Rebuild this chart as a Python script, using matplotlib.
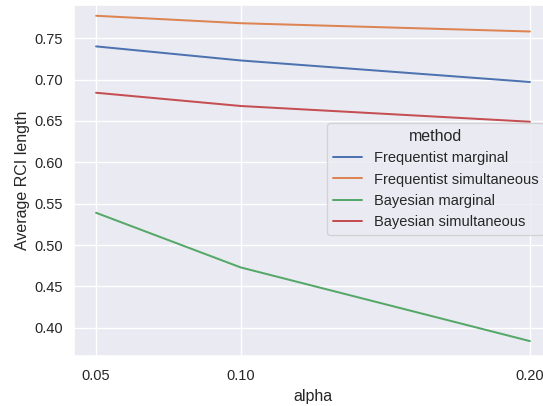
import matplotlib
matplotlib.use("Agg")
import matplotlib.pyplot as plt
import seaborn as sns

sns.set_theme(style="darkgrid")
plt.rcParams["font.family"] = ["Liberation Sans", "DejaVu Sans"]

alpha = [0.05, 0.10, 0.20]
methods = ["Frequentist marginal", "Frequentist simultaneous",
           "Bayesian marginal", "Bayesian simultaneous"]
freq_marginal = [0.740, 0.723, 0.697]
freq_simultaneous = [0.777, 0.768, 0.758]
bayes_marginal = [0.539, 0.473, 0.384]
bayes_simultaneous = [0.684, 0.668, 0.649]
series = [freq_marginal, freq_simultaneous, bayes_marginal, bayes_simultaneous]

W, H = 543, 406
DPI = 96
fig = plt.figure(figsize=(W / DPI, H / DPI), dpi=DPI)
left, right, top, bottom = 74.4, 551.6, 5, 356
ax = fig.add_axes([left / W, 1 - bottom / H, (right - left) / W, (bottom - top) / H])

colors = sns.color_palette()
for vals, name, c in zip(series, methods, colors):
    ax.plot(alpha, vals, color=c, label=name, linewidth=1.5)

ax.set_xticks(alpha)
ax.set_xticklabels(["0.05", "0.10", "0.20"])
ax.set_yticks([0.40, 0.45, 0.50, 0.55, 0.60, 0.65, 0.70, 0.75])
ax.set_xlim(0.05 - 0.0075, 0.20 + 0.0075)
ax.set_ylim(0.366, 0.790)
ax.tick_params(axis="x", length=0, pad=10)
ax.tick_params(axis="y", length=0, pad=8.5)
ax.set_xlabel("alpha", labelpad=4)
ax.set_ylabel("Average RCI length", labelpad=3.5)

leg = ax.legend(title="method", loc="upper left",
                bbox_to_anchor=(327 / W, 1 - 123 / H),
                bbox_transform=fig.transFigure, borderaxespad=0)

fig.savefig("out.png", dpi=DPI)
